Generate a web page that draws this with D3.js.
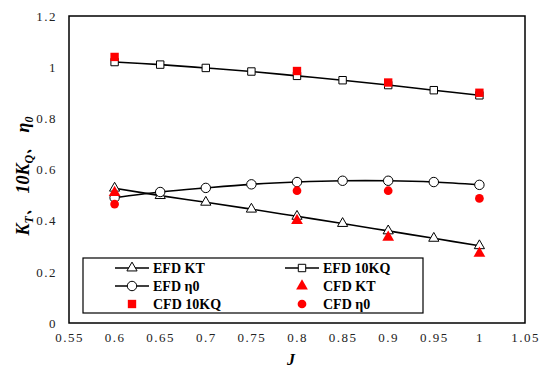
<!DOCTYPE html>
<html>
<head>
<meta charset="utf-8">
<script src="https://cdn.jsdelivr.net/npm/d3@7"></script>
<style>
  body { margin: 0; background: #fff; }
  svg text { font-family: "Liberation Serif", "Times New Roman", serif; }
</style>
</head>
<body>
<div id="viz"></div>
<script>
(function () {
  // data
  var jEfd = [0.6, 0.65, 0.7, 0.75, 0.8, 0.85, 0.9, 0.95, 1.0];
  var efdKT = [0.527, 0.498, 0.472, 0.445, 0.417, 0.389, 0.360, 0.331, 0.302];
  var efd10KQ = [1.02, 1.01, 0.997, 0.983, 0.966, 0.949, 0.930, 0.910, 0.890];
  var efdEta = [0.490, 0.512, 0.528, 0.542, 0.551, 0.556, 0.556, 0.551, 0.540];

  var jCfd = [0.6, 0.8, 0.9, 1.0];
  var cfdKT = [0.510, 0.400, 0.335, 0.272];
  var cfd10KQ = [1.040, 0.985, 0.940, 0.900];
  var cfdEta = [0.465, 0.517, 0.517, 0.487];

  var xTicks = [0.55, 0.6, 0.65, 0.7, 0.75, 0.8, 0.85, 0.9, 0.95, 1, 1.05];
  var yTicks = [0, 0.2, 0.4, 0.6, 0.8, 1, 1.2];

  var width = 550, height = 374;
  var margin = {left: 69, right: 25, top: 16, bottom: 51};

  var svg = d3.select("#viz").append("svg")
    .attr("width", width)
    .attr("height", height);

  var x = d3.scaleLinear().domain([0.55, 1.05]).range([margin.left, width - margin.right]);
  var y = d3.scaleLinear().domain([0, 1.2]).range([height - margin.bottom, margin.top]);

  // axes (labels only, frame drawn separately)
  var xAxis = d3.axisBottom(x).tickValues(xTicks).tickSize(0).tickPadding(10)
    .tickFormat(function (d) { return d3.format("")(+d.toFixed(2)); });
  var gx = svg.append("g").attr("transform", "translate(0," + (height - margin.bottom) + ")").call(xAxis);
  gx.select(".domain").remove();
  gx.attr("font-family", null);
  gx.selectAll("text").attr("font-size", 13).attr("fill", "#222").attr("letter-spacing", "1.5px")
    .style("font-family", "'Liberation Serif', serif");

  var yAxis = d3.axisLeft(y).tickValues(yTicks).tickSize(0).tickPadding(12)
    .tickFormat(function (d) { return d3.format("")(+d.toFixed(1)); });
  var gy = svg.append("g").attr("transform", "translate(" + margin.left + ",0)").call(yAxis);
  gy.select(".domain").remove();
  gy.attr("font-family", null);
  gy.selectAll("text").attr("font-size", 13).attr("fill", "#222").attr("letter-spacing", "1.5px")
    .style("font-family", "'Liberation Serif', serif");

  svg.append("rect")
    .attr("x", margin.left).attr("y", margin.top)
    .attr("width", width - margin.left - margin.right)
    .attr("height", height - margin.top - margin.bottom)
    .attr("fill", "none").attr("stroke", "#000").attr("stroke-width", 1.5);

  // axis titles
  var yl = svg.append("text")
    .attr("transform", "translate(29,176) rotate(-90)")
    .attr("text-anchor", "middle")
    .attr("font-size", 18).attr("font-weight", "bold").attr("font-style", "italic");
  yl.append("tspan").text("K");
  yl.append("tspan").text("T").attr("font-size", 12).attr("dy", 4);
  yl.append("tspan").text("、 10K").attr("dy", -4);
  yl.append("tspan").text("Q").attr("font-size", 12).attr("dy", 4);
  yl.append("tspan").text("、 η").attr("dy", -4);
  yl.append("tspan").text("0").attr("font-size", 12).attr("dy", 4);

  svg.append("text")
    .attr("x", 291).attr("y", 365)
    .attr("text-anchor", "middle")
    .attr("font-size", 16).attr("font-weight", "bold").attr("font-style", "italic")
    .text("J");

  var line = d3.line()
    .x(function (d) { return x(d[0]); })
    .y(function (d) { return y(d[1]); })
    .curve(d3.curveCatmullRom);

  var sTri = d3.symbol().type(d3.symbolTriangle).size(45);
  var sSq = d3.symbol().type(d3.symbolSquare).size(55);
  var sCirc = d3.symbol().type(d3.symbolCircle).size(70);
  var fTri = d3.symbol().type(d3.symbolTriangle).size(60);
  var fSq = d3.symbol().type(d3.symbolSquare).size(70);
  var fCirc = d3.symbol().type(d3.symbolCircle).size(60);

  function drawEfd(vals, sym) {
    var pts = jEfd.map(function (j, i) { return [j, vals[i]]; });
    svg.append("path").datum(pts)
      .attr("d", line).attr("fill", "none").attr("stroke", "#000").attr("stroke-width", 1.6);
    svg.append("g").selectAll("path").data(pts).enter().append("path")
      .attr("d", sym)
      .attr("transform", function (d) { return "translate(" + x(d[0]) + "," + y(d[1]) + ")"; })
      .attr("fill", "#fff").attr("stroke", "#000").attr("stroke-width", 1);
  }
  function drawCfd(vals, sym) {
    var pts = jCfd.map(function (j, i) { return [j, vals[i]]; });
    svg.append("g").selectAll("path").data(pts).enter().append("path")
      .attr("d", sym)
      .attr("transform", function (d) { return "translate(" + x(d[0]) + "," + y(d[1]) + ")"; })
      .attr("fill", "#ff0000");
  }

  drawEfd(efdKT, sTri);
  drawEfd(efd10KQ, sSq);
  drawEfd(efdEta, sCirc);
  drawCfd(cfdKT, fTri);
  drawCfd(cfd10KQ, fSq);
  drawCfd(cfdEta, fCirc);

  // legend
  var lg = svg.append("g");
  lg.append("rect").attr("x", 83).attr("y", 258).attr("width", 340).attr("height", 55)
    .attr("fill", "#fff").attr("stroke", "#000").attr("stroke-width", 1.2);

  var legendItems = [
    {name: "EFD KT", sym: sTri, efd: true, col: 0, row: 0},
    {name: "EFD 10KQ", sym: sSq, efd: true, col: 1, row: 0},
    {name: "EFD η0", sym: sCirc, efd: true, col: 0, row: 1},
    {name: "CFD KT", sym: fTri, efd: false, col: 1, row: 1},
    {name: "CFD 10KQ", sym: fSq, efd: false, col: 0, row: 2},
    {name: "CFD η0", sym: fCirc, efd: false, col: 1, row: 2}
  ];
  legendItems.forEach(function (it) {
    var lx = it.col === 0 ? 115 : 285;
    var ly = 268 + it.row * 18;
    var cx = lx + 17;
    if (it.efd) {
      lg.append("line").attr("x1", lx).attr("x2", lx + 34).attr("y1", ly).attr("y2", ly)
        .attr("stroke", "#000").attr("stroke-width", 1.6);
      lg.append("path").attr("d", it.sym).attr("transform", "translate(" + cx + "," + ly + ")")
        .attr("fill", "#fff").attr("stroke", "#000");
    } else {
      lg.append("path").attr("d", it.sym).attr("transform", "translate(" + cx + "," + ly + ")")
        .attr("fill", "#ff0000");
    }
    lg.append("text").attr("x", lx + 38).attr("y", ly + 5)
      .attr("font-size", 14).attr("font-weight", "bold").text(it.name);
  });
})();
</script>
</body>
</html>
